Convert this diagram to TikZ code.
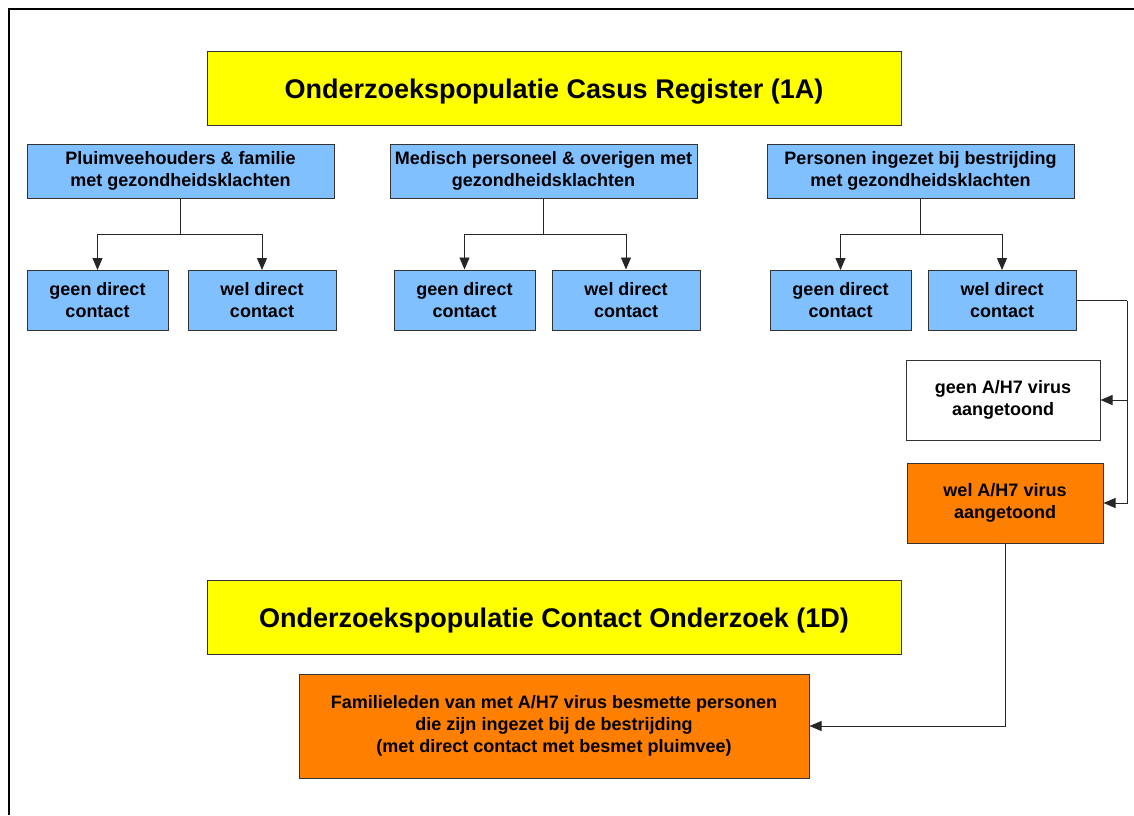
\documentclass[tikz,border=0pt]{standalone}
\usepackage{fontspec}
\setmainfont{Liberation Sans}
\usetikzlibrary{arrows.meta}

\definecolor{titleyellow}{RGB}{255,255,0}
\definecolor{groupblue}{RGB}{128,192,255}
\definecolor{virusorange}{RGB}{255,128,0}

\tikzset{
    box/.style = {draw = black!80, line width = 1pt, align = center, inner sep = 0pt,
                  font = \fontsize{18}{22}\selectfont\bfseries},
    titlebox/.style = {box, fill = titleyellow, minimum width = 694pt, minimum height = 74pt,
                  text height = 23pt, text depth = 3pt,
                  font = \fontsize{27}{32}\selectfont\bfseries},
    groupbox/.style = {box, fill = groupblue, minimum width = 307pt, minimum height = 54pt},
    contactbox/.style = {box, fill = groupblue, minimum height = 60pt},
    virusbox/.style = {box, minimum height = 80pt},
    link/.style = {black!85, line width = 0.9pt},
    arrow/.style = {link, -{Triangle[length = 12pt, width = 10pt]}}
}

\begin{document}
\begin{tikzpicture}[x = 1pt, y = -1pt]

    \def\width  {1134}
    \def\height {815}

    % page and frame
    \useasboundingbox (0, 0) rectangle (\width, \height);
    \draw [line width = 2pt] (9.3, \height) -- (9.3, 9) -- (\width, 9);

    % casus register
    \node [titlebox] (casus) at (554, 88) {Onderzoekspopulatie Casus Register (1A)};

    % the three groups
    \node [groupbox] (boeren)   at (180.5, 171) {Pluimveehouders \& familie\\met gezondheidsklachten};
    \node [groupbox] (medisch)  at (543.5, 171) {Medisch personeel \& overigen met\\gezondheidsklachten};
    \node [groupbox] (ingezet)  at (920.5, 171) {Personen ingezet bij bestrijding\\met gezondheidsklachten};

    % contact or not
    \node [contactbox, minimum width = 141pt] (geenA) at (97.5, 300.5)  {geen direct\\contact};
    \node [contactbox, minimum width = 148pt] (welA)  at (262, 300.5)   {wel direct\\contact};
    \node [contactbox, minimum width = 141pt] (geenB) at (464.5, 300)   {geen direct\\contact};
    \node [contactbox, minimum width = 148pt] (welB)  at (626, 300)     {wel direct\\contact};
    \node [contactbox, minimum width = 141pt] (geenC) at (840.5, 300.5) {geen direct\\contact};
    \node [contactbox, minimum width = 148pt] (welC)  at (1002, 300.5)  {wel direct\\contact};

    % virus found or not
    \node [virusbox, fill = white, minimum width = 194pt]        (geenvirus) at (1003, 400) {geen A/H7 virus\\aangetoond};
    \node [virusbox, fill = virusorange, minimum width = 196pt]  (welvirus)  at (1005, 503) {wel A/H7 virus\\aangetoond};

    % contact onderzoek
    \node [titlebox] (contact) at (554, 617) {Onderzoekspopulatie Contact Onderzoek (1D)};
    \node [box, fill = virusorange, minimum width = 510pt, minimum height = 104pt] (familie) at (554, 726)
        {Familieleden van met A/H7 virus besmette personen\\die zijn ingezet bij de bestrijding\\(met direct contact met besmet pluimvee)};

    % split lines
    \foreach \top/\left/\right in {boeren/geenA/welA, medisch/geenB/welB, ingezet/geenC/welC} {
        \draw [link] (\top.south) -- ++(0, 36) coordinate (split);
        \draw [arrow] (split) -| (\left.north);
        \draw [arrow] (split) -| (\right.north);
    }

    % right side
    \draw [link] (welC.east) -- (1127, 300.5) coordinate (bend);
    \draw [arrow] (bend) |- (geenvirus.east);
    \draw [arrow] (bend) |- (welvirus.east);

    % down to the family
    \draw [arrow] (welvirus.south) |- (familie.east);

\end{tikzpicture}
\end{document}
